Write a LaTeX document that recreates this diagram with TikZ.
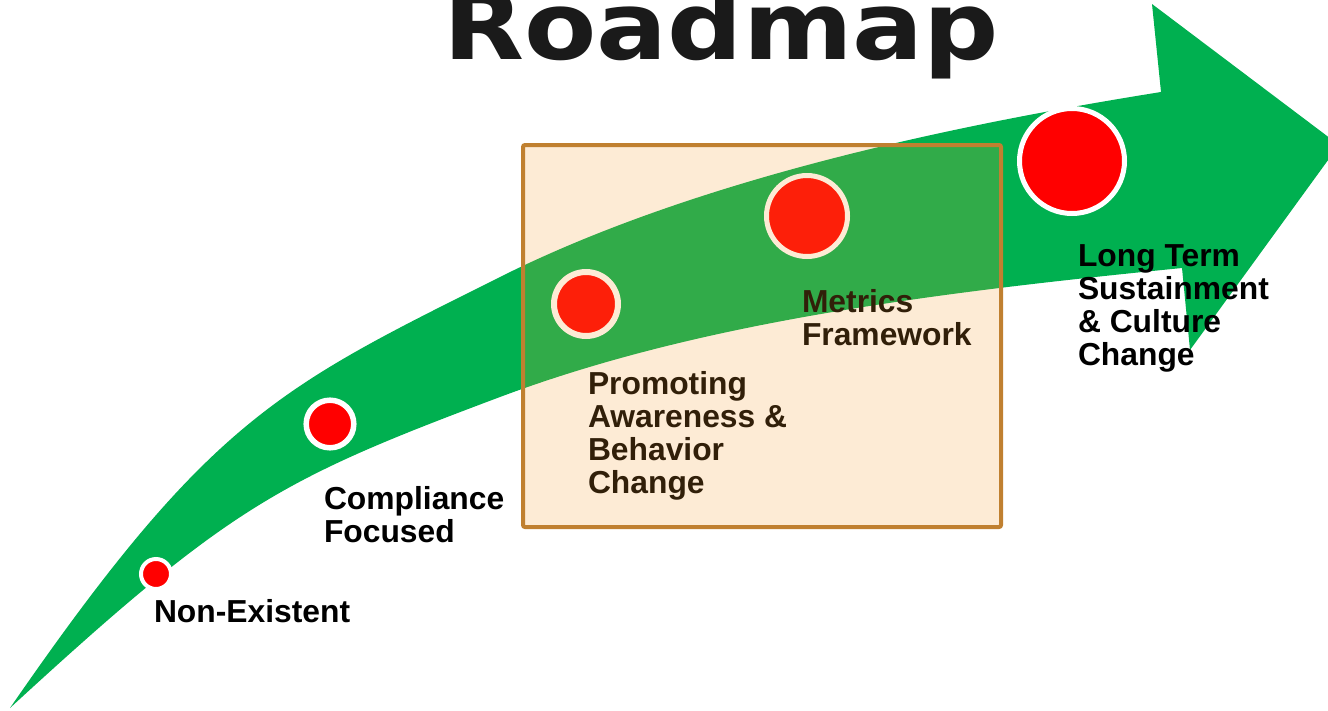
\documentclass[tikz,border=0pt]{standalone}
\usepackage{fontspec}
\setmainfont{Liberation Sans}
\newfontfamily\titlefont{DejaVu Sans}
\definecolor{arrowgreen}{RGB}{0,176,80}
\definecolor{dotred}{RGB}{255,0,0}
\definecolor{boxtint}{RGB}{245,155,45}
\definecolor{boxedge}{RGB}{192,128,48}
\definecolor{titleink}{RGB}{26,26,26}
\newcommand{\lbltab}[1]{\begin{tabular}[t]{@{}l@{}}#1\end{tabular}}
\begin{document}
\begin{tikzpicture}[x=1pt,y=-1pt,
  dot/.style={circle, fill=dotred, draw=white, inner sep=0pt, outer sep=0pt},
  lbl/.style={anchor=base west, inner sep=0pt, outer sep=0pt, text=black,
    font=\fontsize{31.8}{33.3}\selectfont\bfseries},
  stagebox/.style={draw=boxedge, line width=4pt, fill=boxtint, fill opacity=0.2, rounded corners=2pt}]
\useasboundingbox (0,0) rectangle (1328,710);
\clip (0,0) rectangle (1328,710);

% title
\node[anchor=base west, inner sep=0pt, text=titleink, xscale=1.12,
  font=\fontsize{94}{100}\selectfont\titlefont\bfseries] (title) at (443,59) {Roadmap};

% curved arrow
\fill[arrowgreen]
  (10,708) .. controls (210,418) and (280,387) .. (500,277)
           .. controls (700,177) and (961,124) .. (1161,92)
  -- (1152,4) -- (1339,145) -- (1190,350) -- (1182,268)
  .. controls (932,293) and (700,322) .. (500,397)
  .. controls (280,479.5) and (230,505.6) .. (10,708)
  -- cycle;

% stage dots
\node[dot, line width=4pt, minimum size=30pt] (d1) at (156,574) {};
\node[dot, line width=5.5pt, minimum size=47.6pt] (d2) at (330,424) {};
\node[dot, line width=6pt, minimum size=64pt] (d3) at (586,304) {};
\node[dot, line width=5pt, minimum size=81pt] (d4) at (807,216) {};
\node[dot, line width=5pt, minimum size=105pt] (d5) at (1072,161) {};

% labels
\node[lbl] (l1) at (154,622) {\lbltab{Non-Existent}};
\node[lbl] (l2) at (324,509) {\lbltab{Compliance\\Focused}};
\node[lbl] (l3) at (588,394) {\lbltab{Promoting\\Awareness \&\\Behavior\\Change}};
\node[lbl] (l4) at (802,312) {\lbltab{Metrics\\Framework}};
\node[lbl] (l5) at (1078,266) {\lbltab{Long Term\\Sustainment\\\& Culture\\Change}};

% highlight box
\draw[stagebox] (523,145) rectangle (1001,527);
\end{tikzpicture}
\end{document}
